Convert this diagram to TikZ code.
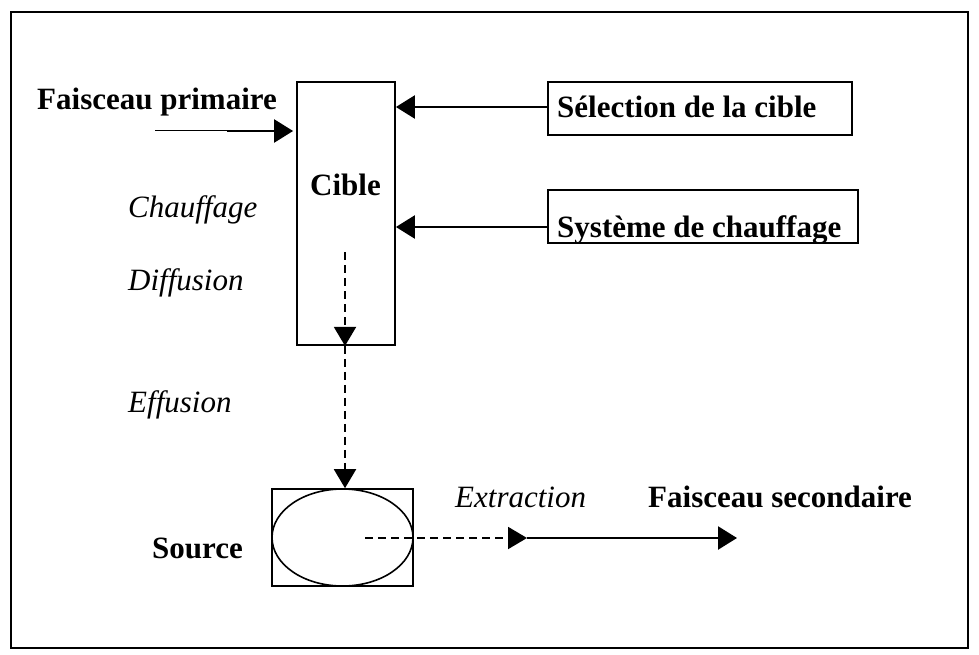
\documentclass[tikz,border=0pt]{standalone}
\usepackage{fontspec}
\setmainfont{Liberation Serif}
\usetikzlibrary{arrows.meta,shapes.geometric}
\begin{document}
\begin{tikzpicture}[x=1pt,y=-1pt,
  boxstyle/.style={draw,line width=1.8pt,inner sep=0pt},
  bold/.style={font=\fontsize{31}{36}\selectfont\bfseries,inner sep=0pt},
  ital/.style={font=\fontsize{31}{36}\selectfont\itshape,inner sep=0pt},
  conn/.style={line width=2.4pt,-{Triangle[length=19pt,width=23pt]}},
  dconn/.style={line width=2pt,dash pattern=on 8pt off 5pt,-{Triangle[length=19pt,width=22pt]}}]
\useasboundingbox (0,0) rectangle (979,655);
\draw[line width=2.6pt] (11,648) -- (11,12) -- (968,12) -- (968,648) -- cycle;
% boxes
\node[boxstyle,minimum width=98pt,minimum height=263pt] (cible) at (346,213.5) {};
\node[bold,anchor=base west] (ciblet) at (310,195) {Cible};
\node[boxstyle,minimum width=304pt,minimum height=53pt] (sel) at (700,108.5) {};
\node[bold,anchor=base west] (selt) at (557,118) {Sélection de la cible};
\node[boxstyle,minimum width=310pt,minimum height=53pt] (sys) at (703,216.5) {};
\node[bold,anchor=base west] (syst) at (557,237) {Système de chauffage};
\node[boxstyle,minimum width=141pt,minimum height=97pt] (srcbox) at (342.5,537.5) {};
\node[draw,line width=1.6pt,ellipse,inner sep=0pt,minimum width=141pt,minimum height=97pt] (ell) at (342.5,537.5) {};
% labels
\node[bold,anchor=base west] (fp) at (37,110) {Faisceau primaire};
\node[ital,anchor=base west] (chauf) at (128,217) {Chauffage};
\node[ital,anchor=base west] (diff) at (128,290) {Diffusion};
\node[ital,anchor=base west] (effu) at (128,412) {Effusion};
\node[bold,anchor=base west] (srct) at (152,558) {Source};
\node[ital,anchor=base west] (extr) at (455,507) {Extraction};
\node[bold,anchor=base west] (fs) at (648,507) {Faisceau secondaire};
% connectors
\coordinate (p0) at (155,131);
\coordinate (p1) at (227,131);
\draw[line width=1pt] (p0) -- (p1);
\draw[conn,shorten >=3pt] (p1) -- (cible.west |- p1);
\coordinate (s1) at (548,107);
\draw[conn] (s1) -- (cible.east |- s1);
\coordinate (h1) at (548,227);
\draw[conn] (h1) -- (cible.east |- h1);
\coordinate (d0) at (345,252);
\draw[dconn] (d0) -- (d0 |- cible.south);
\draw[dconn] (d0 |- cible.south) -- (d0 |- ell.north);
\coordinate (e0) at (365,538);
\coordinate (e1) at (527,538);
\coordinate (e2) at (737,538);
\draw[dconn] (e0) -- (e1);
\draw[conn] (e1) -- (e2);
\end{tikzpicture}
\end{document}
